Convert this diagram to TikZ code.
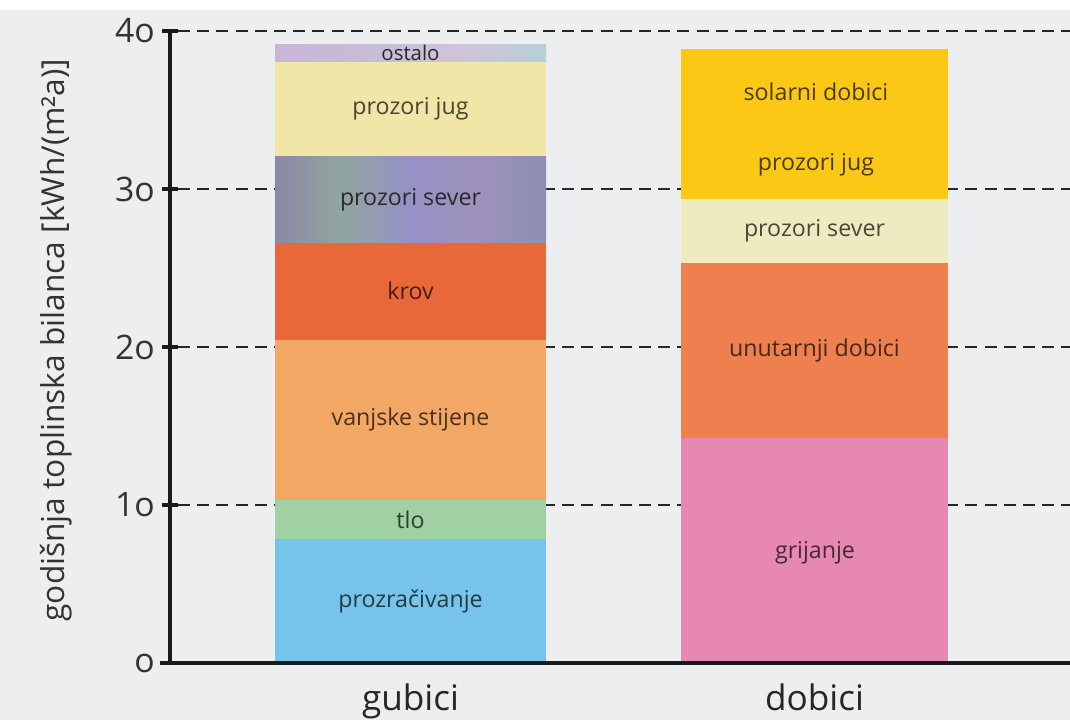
\documentclass[tikz,border=0pt]{standalone}
\usepackage{fontspec}
\setmainfont{Open Sans}
\usetikzlibrary{fit}
\usetikzlibrary{positioning}

\definecolor{bgcol}{HTML}{EDEEF0}
\definecolor{cOstA}{HTML}{C9B5DA}
\definecolor{cOstB}{HTML}{C6BED8}
\definecolor{cOstC}{HTML}{CFC4DA}
\definecolor{cOstD}{HTML}{B6D0D6}
\definecolor{cJugL}{HTML}{F2E5A8}
\definecolor{cSevA}{HTML}{8D88A8}
\definecolor{cSevB}{HTML}{90A59E}
\definecolor{cSevC}{HTML}{9791C6}
\definecolor{cSevD}{HTML}{9E92BC}
\definecolor{cSevE}{HTML}{8D90B2}
\definecolor{cKrov}{HTML}{E8683A}
\definecolor{cStijene}{HTML}{F2A765}
\definecolor{cTlo}{HTML}{A0D1A2}
\definecolor{cVent}{HTML}{76C4EA}
\definecolor{cSolar}{HTML}{FAC815}
\definecolor{cSevR}{HTML}{EEEBC0}
\definecolor{cUnut}{HTML}{EE804F}
\definecolor{cGrij}{HTML}{E688B1}
\definecolor{cText}{HTML}{8A8A8A}

\pgfdeclarehorizontalshading{ostaloshade}{100bp}{color(0bp)=(cOstA); color(25bp)=(cOstA); color(45bp)=(cOstB); color(60bp)=(cOstC); color(75bp)=(cOstD); color(100bp)=(cOstD)}
\pgfdeclarehorizontalshading{severshade}{100bp}{color(0bp)=(cSevA); color(25bp)=(cSevA); color(37bp)=(cSevB); color(50bp)=(cSevC); color(62bp)=(cSevD); color(75bp)=(cSevE); color(100bp)=(cSevE)}

\newcommand\barfont{\fontsize{16.5}{19}\selectfont}
\newcommand\tickfont{\fontsize{24}{28}\selectfont}
\newcommand\xlabfont{\fontsize{25}{30}\selectfont}
\newcommand\ylabfont{\fontsize{22.5}{27}\selectfont}

\begin{document}
\begin{tikzpicture}[x=0.025cm, y=0.395cm,
  seg/.style={fill=#1, inner sep=0pt},
  shadedseg/.style={shading=#1, inner sep=0pt},
  bartext/.style={inner sep=0pt, font=\barfont, text=#1!30!black},
  bartext/.default=cText,
  gridline/.style={dash pattern=on 0.3cm off 0.18cm, line width=1.9pt, black!85},
  axisline/.style={line width=3pt, black!90},
  ticklbl/.style={anchor=east, inner sep=0pt, font=\tickfont, text=black!80},
  axlbl/.style={anchor=base, font=\xlabfont, text=black!85}]
\useasboundingbox (0,-3.61) rectangle (1070,41.96);
\fill[bgcol] (0,-3.61) rectangle (1070,41.96);
\fill[white] (0,41.33) rectangle (1070,41.96);

\foreach \v in {10,20,30,40}
  \draw[gridline] (178,\v) -- (1070,\v);

% gubici
\node[seg=cVent, fit={(275,0) (546,7.86)}] (prozracivanje) {};
\node[seg=cTlo, fit={(275,7.86) (546,10.33)}] (tlo) {};
\node[seg=cStijene, fit={(275,10.33) (546,20.47)}] (stijene) {};
\node[seg=cKrov, fit={(275,20.47) (546,26.62)}] (krov) {};
\node[shadedseg=severshade, fit={(275,26.62) (546,32.07)}] (severL) {};
\node[seg=cJugL, fit={(275,32.07) (546,38.09)}] (jugL) {};
\node[shadedseg=ostaloshade, fit={(275,38.09) (546,39.16)}] (ostalo) {};

\node[bartext=cVent] (prozracivanjeTxt) at (prozracivanje) {prozračivanje};
\node[bartext=cTlo] (tloTxt) at (tlo) {tlo};
\node[bartext=cStijene] (stijeneTxt) at (stijene) {vanjske stijene};
\node[bartext=cKrov] (krovTxt) at (krov) {krov};
\node[bartext] (severLTxt) at (severL) {prozori sever};
\node[bartext=cJugL] (jugLTxt) at (jugL) {prozori jug};
\node[bartext, font=\fontsize{14.5}{17}\selectfont] (ostaloTxt) at (ostalo) {ostalo};

% dobici
\node[seg=cGrij, fit={(681,0) (948,14.26)}] (grijanje) {};
\node[seg=cUnut, fit={(681,14.26) (948,25.35)}] (unutarnji) {};
\node[seg=cSevR, fit={(681,25.35) (948,29.34)}] (severR) {};
\node[seg=cSolar, fit={(681,29.34) (948,38.85)}] (solarni) {};

\node[bartext=cGrij] (grijanjeTxt) at (815,7.0) {grijanje};
\node[bartext=cUnut] (unutarnjiTxt) at (unutarnji) {unutarnji dobici};
\node[bartext=cSevR] (severRTxt) at (severR) {prozori sever};
\node[bartext=cSolar] (solarniTxt) at (816,36.14) {solarni dobici};
\node[bartext=cSolar] (jugRTxt) at (816,31.52) {prozori jug};

\coordinate (O) at (170,0);
\draw[axisline] (170,40) -- (O);
\draw[axisline] (160,0) -- (1070,0);
\foreach \v/\t in {10/1o,20/2o,30/3o,40/4o} {
  \draw[axisline] (162,\v) -- (178,\v);
  \node[ticklbl] (t\v) at (155,\v) {\t};
}
\node[ticklbl] (t0) at (155,0) {o};

\node[rotate=90, anchor=base, font=\ylabfont, text=black!80] (ylab) at (64,20.44) {godišnja toplinska bilanca [kWh/(m²a)]};
\node[axlbl] (gubici) at (410.5,-2.97) {gubici};
\node[axlbl] (dobici) at (814.5,-2.97) {dobici};
\end{tikzpicture}
\end{document}
